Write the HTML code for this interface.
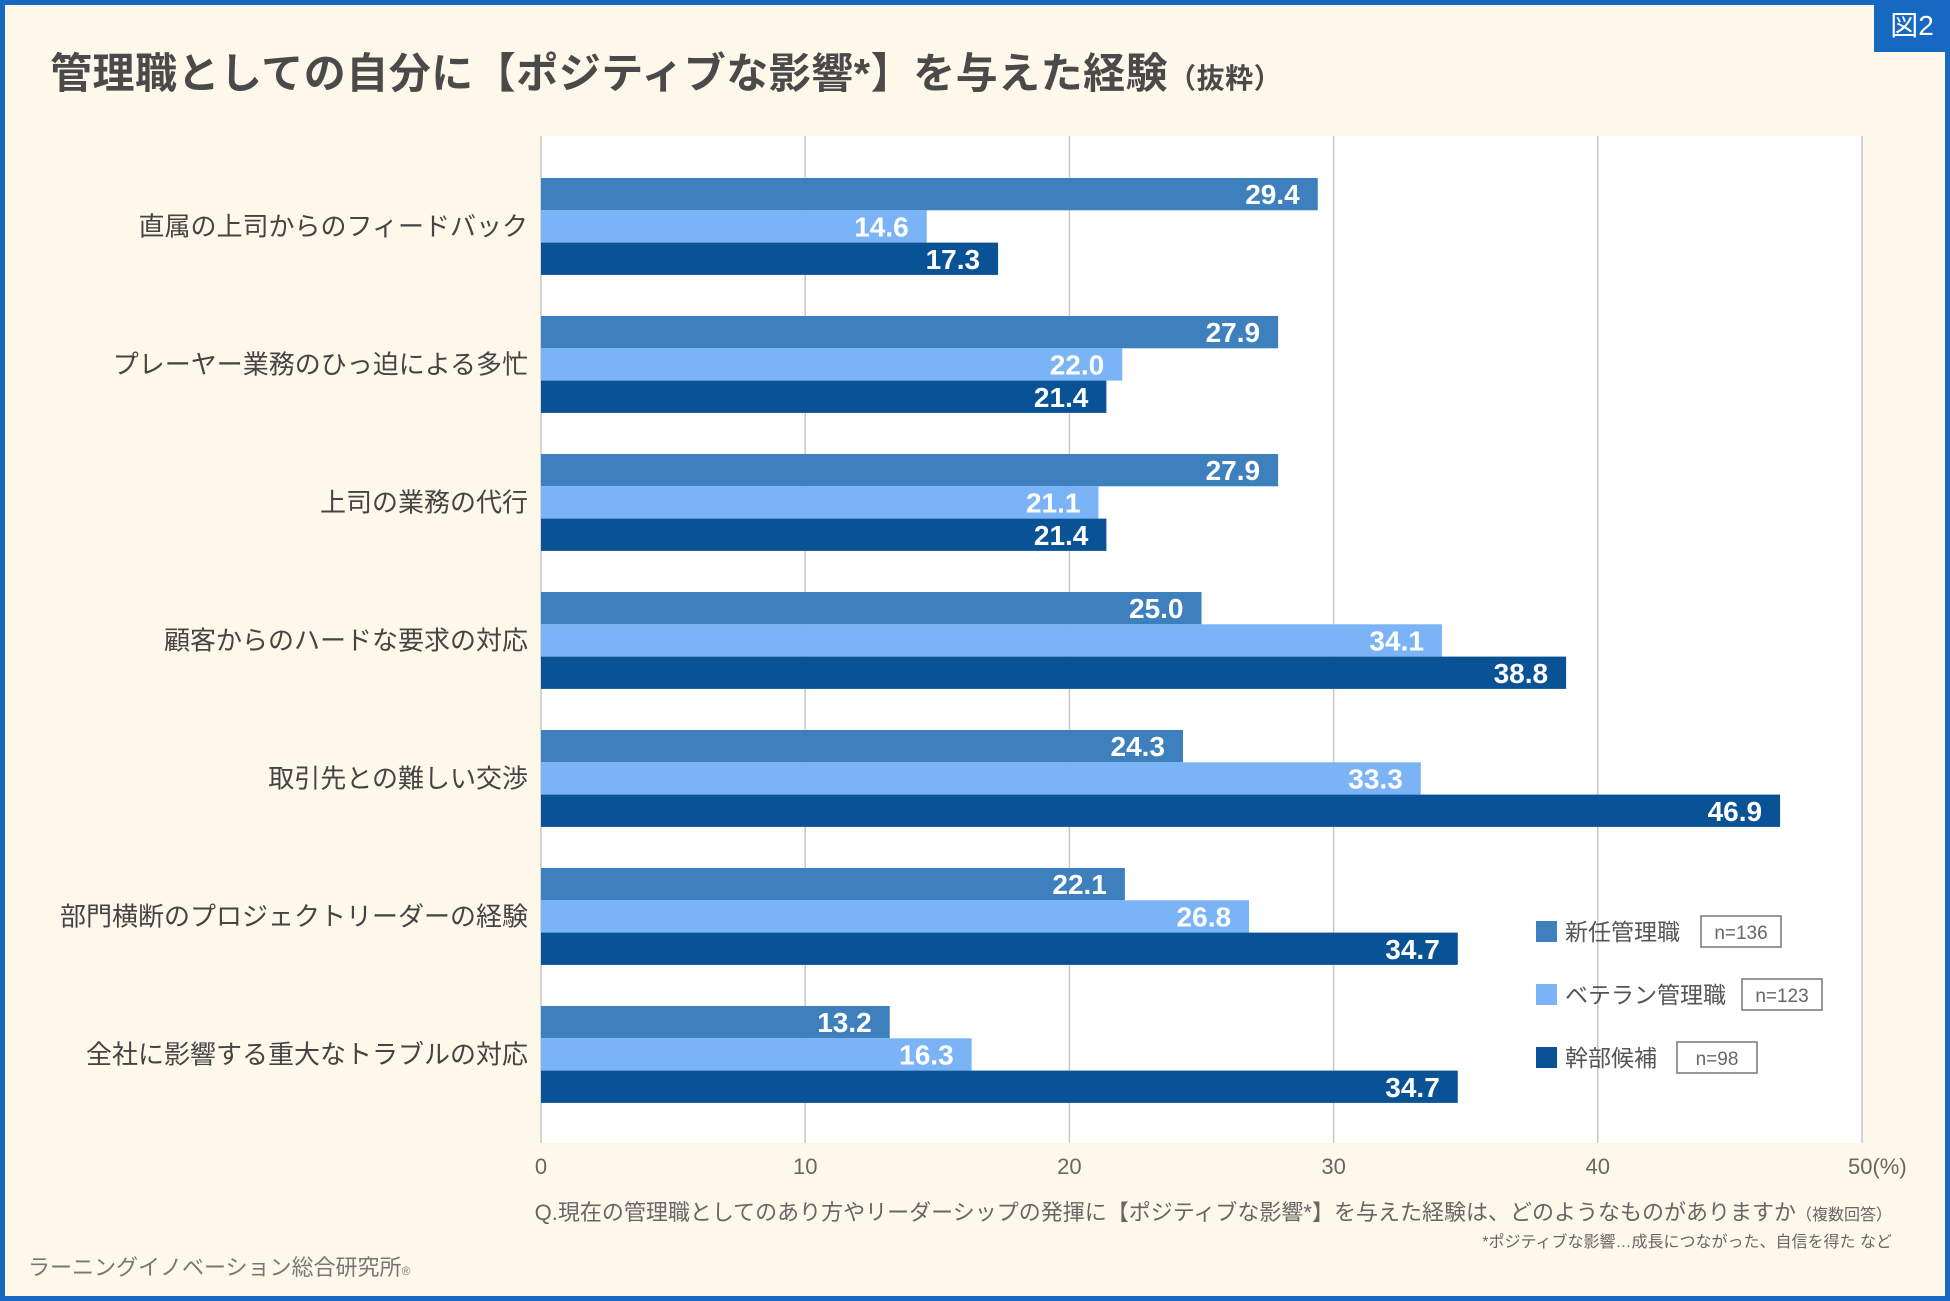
<!DOCTYPE html>
<html><head><meta charset="utf-8"><style>
body{margin:0;}
#wrap{position:relative;width:1950px;height:1301px;background:#fdf8ea;box-sizing:border-box;border:5px solid #1668c0;overflow:hidden;font-family:"Liberation Sans","Noto Sans CJK JP",sans-serif;color:#4a4a4a;}
.t{position:absolute;white-space:nowrap;}
</style></head><body>
<div id="wrap">
<div class="t" style="left:45px;top:35px;font-size:42px;font-weight:bold;color:#4a4a4a;letter-spacing:0.5px;">管理職としての自分に【ポジティブな影響*】を与えた経験<span style="font-size:28px;">（抜粋）</span></div>
<div class="t" style="left:1869px;top:-5px;width:76px;height:52px;background:#1668c0;color:#fff;font-size:28px;line-height:52px;text-align:center;">図2</div>
<svg id="chart" width="1950" height="1301" style="position:absolute;left:-5px;top:-5px;"></svg>
<div class="t" style="right:53px;top:1190px;font-size:22px;color:#666;">Q.現在の管理職としてのあり方やリーダーシップの発揮に【ポジティブな影響*】を与えた経験は、どのようなものがありますか<span style="font-size:16px;">（複数回答）</span></div>
<div class="t" style="right:53px;top:1223px;font-size:16px;color:#666;">*ポジティブな影響…成長につながった、自信を得た など</div>
<div class="t" style="left:23px;top:1245px;font-size:22px;color:#777;">ラーニングイノベーション総合研究所<span style="font-size:12px;">®</span></div>
</div>
<script>
const categories=["直属の上司からのフィードバック","プレーヤー業務のひっ迫による多忙","上司の業務の代行","顧客からのハードな要求の対応","取引先との難しい交渉","部門横断のプロジェクトリーダーの経験","全社に影響する重大なトラブルの対応"];
const seriesNew=[29.4,27.9,27.9,25.0,24.3,22.1,13.2];
const seriesVeteran=[14.6,22.0,21.1,34.1,33.3,26.8,16.3];
const seriesCandidate=[17.3,21.4,21.4,38.8,46.9,34.7,34.7];
const seriesNames=["新任管理職","ベテラン管理職","幹部候補"];
const seriesN=["n=136","n=123","n=98"];
const ticks=[0,10,20,30,40,50];
const tickLabels=["0","10","20","30","40","50(%)"];
const colors=["#3d80bd","#7ab4f6","#0a5296"];
const NS="http://www.w3.org/2000/svg";
const svg=document.getElementById('chart');
const X0=541,X1=1862,TOP=136,BOT=1143,G0=178,GP=138,BH=32.3;
const x=v=>X0+(X1-X0)*v/50;
const y=(i,s)=>G0+GP*i+BH*s;
function mk(t,a){const e=document.createElementNS(NS,t);for(const k in a)e.setAttribute(k,a[k]);svg.appendChild(e);return e;}
let e=mk('rect',{x:X0,y:TOP,width:X1-X0,height:BOT-TOP,fill:'#fff'});


ticks.forEach((t,i)=>{
 let g=mk('line',{x1:x(t),x2:x(t),y1:TOP,y2:BOT,stroke:'#c8c8c8','stroke-width':1.5});
 
 
 let l=mk('text',{x:x(t),y:1174,'font-size':22,fill:'#666','text-anchor':'middle'});
 if(i==ticks.length-1){l.setAttribute('text-anchor','start');l.setAttribute('x',x(t)-14);}
 l.textContent=tickLabels[i];
 
 
});
const all=[seriesNew,seriesVeteran,seriesCandidate];
categories.forEach((c,i)=>{
 let cl=mk('text',{x:528,y:y(i,1)+BH/2+9,'font-size':26,fill:'#444','text-anchor':'end'});
 cl.textContent=c;
 
 
 all.forEach((s,k)=>{
  let b=mk('rect',{x:X0,y:y(i,k),width:x(s[i])-X0,height:BH,fill:colors[k]});
  
  
  let v=mk('text',{x:x(s[i])-18,y:y(i,k)+BH/2+10,'font-size':28,'font-weight':'bold',fill:'#fff','text-anchor':'end'});
  v.textContent=s[i].toFixed(1);
  
  
 });
});
const boxX=[1701,1742,1677];
seriesNames.forEach((n,k)=>{
 const yy=921+63*k;
 let sq=mk('rect',{x:1536,y:yy,width:21,height:21,fill:colors[k]});
 
 
 let t=mk('text',{x:1565,y:yy+19,'font-size':23,fill:'#555'});
 t.textContent=n;
 
 
 let bx=mk('rect',{x:boxX[k],y:yy-5,width:80,height:31,fill:'#fff',stroke:'#777','stroke-width':1.5});
 
 
 let nt=mk('text',{x:boxX[k]+40,y:yy+18,'font-size':19,fill:'#666','text-anchor':'middle'});
 nt.textContent=seriesN[k];
 
 
});
</script>
</body></html>
